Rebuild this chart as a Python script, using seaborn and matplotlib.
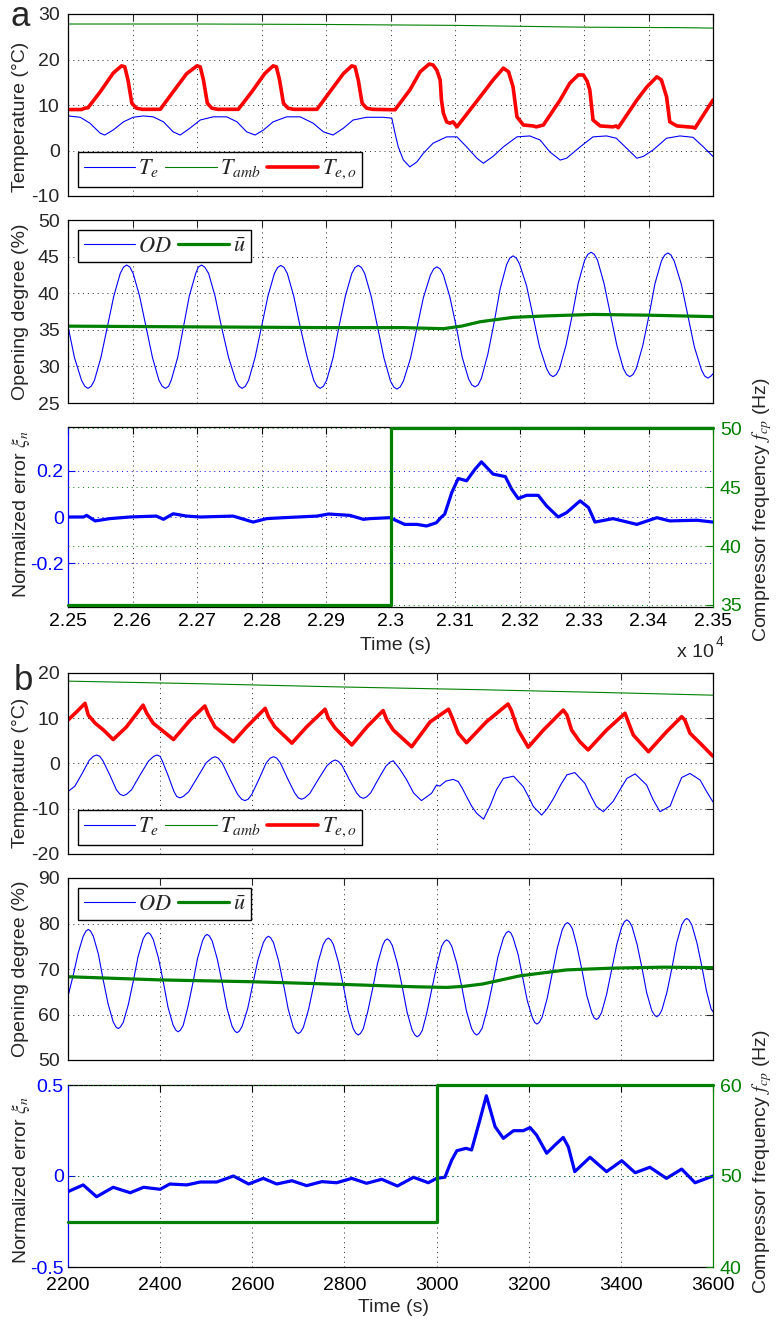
import matplotlib
matplotlib.use("Agg")
import matplotlib.pyplot as plt
from matplotlib.ticker import FuncFormatter
import seaborn as sns

# ---------------- panel a (time in s, shown as x 10^4) ----------------
a_te_t = [22500, 22519, 22534, 22550, 22557, 22570, 22586, 22601, 22617, 22632,
          22648, 22663, 22674, 22689, 22705, 22725, 22746, 22762, 22777, 22790,
          22803, 22818, 22839, 22860, 22880, 22896, 22911, 22927, 22942, 22963,
          22989, 23002, 23007, 23012, 23020, 23030, 23041, 23051, 23066, 23087,
          23103, 23118, 23134, 23144, 23159, 23175, 23196, 23216, 23232, 23247,
          23263, 23273, 23294, 23314, 23335, 23350, 23366, 23382, 23392, 23407,
          23428, 23449, 23469, 23485, 23500]
a_te = [7.6, 7.3, 6.0, 3.8, 3.4, 4.5, 6.3, 7.3, 7.6, 7.4,
        6.3, 4.1, 3.4, 4.9, 6.7, 7.4, 7.4, 6.3, 4.1, 3.4,
        4.5, 6.3, 7.4, 7.4, 6.0, 4.1, 3.4, 4.9, 6.7, 7.3,
        7.3, 7.1, 3.8, 0.8, -2.1, -3.6, -2.5, -0.6, 1.6, 3.0,
        3.0, 0.8, -1.7, -2.8, -1.3, 0.8, 3.0, 3.2, 2.3, -0.3,
        -2.1, -1.7, 0.8, 3.0, 3.2, 2.7, 0.5, -1.7, -1.3, 0.1,
        2.7, 3.2, 2.9, 0.8, -1.3]

a_tamb_t = [22500, 22700, 22900, 23100, 23300, 23450, 23500]
a_tamb = [27.8, 27.8, 27.7, 27.5, 27.1, 27.0, 26.9]

a_teo_t = [22500, 22521, 22526, 22531, 22550, 22570, 22583, 22588, 22593, 22599,
           22606, 22615, 22643, 22663, 22684, 22700, 22705, 22710, 22716, 22723,
           22732, 22764, 22785, 22805, 22818, 22823, 22828, 22834, 22841, 22850,
           22886, 22906, 22927, 22940, 22945, 22950, 22956, 22963, 22972, 23007,
           23030, 23046, 23060, 23066, 23072, 23077, 23079, 23082, 23087, 23092,
           23097, 23103, 23139, 23159, 23175, 23183, 23190, 23196, 23206, 23221,
           23226, 23237, 23263, 23278, 23291, 23299, 23305, 23309, 23314, 23325,
           23345, 23350, 23353, 23382, 23397, 23413, 23420, 23428, 23433, 23444,
           23469, 23472, 23500]
a_teo = [9.0, 9.0, 9.3, 9.4, 12.9, 17.0, 18.6, 18.4, 15.5, 10.4,
         9.3, 9.05, 9.05, 12.9, 16.9, 18.6, 18.4, 15.5, 10.4, 9.3,
         9.05, 9.05, 12.9, 16.9, 18.6, 18.4, 15.5, 10.4, 9.3, 9.05,
         9.05, 12.9, 16.9, 18.6, 18.4, 15.5, 10.4, 9.3, 9.05, 8.95,
         13.3, 17.3, 19.0, 18.8, 17.6, 15.5, 11.1, 8.2, 6.3, 6.0,
         6.3, 5.2, 11.8, 15.5, 18.1, 17.3, 14.0, 7.4, 5.6, 5.4,
         5.2, 5.6, 11.1, 14.8, 16.6, 16.6, 15.2, 13.3, 6.7, 5.4,
         5.2, 5.4, 5.0, 11.1, 13.9, 16.2, 15.5, 11.8, 6.3, 5.4,
         5.1, 4.9, 11.1]

a_od_t = [22500, 22510, 22521, 22526, 22531, 22536,
          22541, 22551, 22561, 22571, 22581, 22586, 22591, 22596,
          22601, 22611, 22621, 22631, 22641, 22646, 22651, 22656,
          22660, 22670, 22679, 22688, 22698, 22702, 22707, 22712,
          22718, 22728, 22738, 22749, 22760, 22765, 22770, 22775,
          22780, 22790, 22800, 22810, 22820, 22825, 22830, 22835,
          22840, 22850, 22860, 22871, 22881, 22886, 22891, 22896,
          22901, 22911, 22920, 22930, 22940, 22945, 22950, 22955,
          22960, 22970, 22980, 22990, 23000, 23005, 23010, 23015,
          23020, 23031, 23041, 23051, 23062, 23067, 23072, 23077,
          23082, 23092, 23102, 23111, 23121, 23126, 23131, 23136,
          23141, 23151, 23161, 23170, 23180, 23185, 23190, 23195,
          23200, 23211, 23221, 23231, 23242, 23247, 23252, 23257,
          23262, 23272, 23282, 23291, 23301, 23306, 23311, 23316,
          23321, 23331, 23341, 23351, 23361, 23366, 23371, 23376,
          23381, 23391, 23401, 23410, 23420, 23425, 23430, 23435,
          23440, 23451, 23461, 23471, 23482, 23487, 23492, 23497,
          23500]
a_od = [35.5, 31.2, 28.1, 27.29, 27.0, 27.29,
        28.1, 31.2, 35.4, 39.6, 42.7, 43.56, 43.85, 43.56,
        42.7, 39.6, 35.4, 31.2, 28.1, 27.29, 27.0, 27.29,
        28.1, 31.2, 35.4, 39.6, 42.7, 43.56, 43.85, 43.56,
        42.7, 39.6, 35.4, 31.2, 28.1, 27.29, 27.0, 27.29,
        28.1, 31.2, 35.4, 39.6, 42.7, 43.51, 43.8, 43.51,
        42.7, 39.6, 35.4, 31.2, 28.1, 27.29, 27.0, 27.29,
        28.1, 31.2, 35.4, 39.6, 42.7, 43.51, 43.8, 43.51,
        42.7, 39.6, 35.35, 31.1, 28.0, 27.19, 26.9, 27.19,
        28.0, 31.1, 35.25, 39.4, 42.5, 43.32, 43.6, 43.32,
        42.5, 39.5, 35.4, 31.3, 28.3, 27.48, 27.2, 27.48,
        28.4, 31.7, 36.15, 40.6, 43.9, 44.8, 45.1, 44.8,
        44.0, 41.0, 36.85, 32.7, 29.7, 28.88, 28.6, 28.88,
        29.7, 32.85, 37.1, 41.35, 44.5, 45.31, 45.6, 45.31,
        44.5, 41.35, 37.1, 32.85, 29.7, 28.89, 28.6, 28.89,
        29.7, 32.8, 37.05, 41.3, 44.4, 45.21, 45.5, 45.21,
        44.35, 41.2, 36.95, 32.7, 29.55, 28.69, 28.4, 28.69,
        29.0]

a_ubar_t = [22500, 22700, 22900, 23020, 23082, 23110, 23139, 23190, 23242, 23314, 23397, 23500]
a_ubar = [35.5, 35.4, 35.3, 35.3, 35.15, 35.5, 36.1, 36.7, 36.9, 37.1, 37.0, 36.8]

a_xi_t = [22500, 22524, 22529, 22542, 22565, 22596, 22637, 22648, 22663, 22684,
          22705, 22756, 22787, 22808, 22834, 22886, 22904, 22937, 22958, 22968,
          22999, 23022, 23041, 23056, 23071, 23079, 23084, 23095, 23105, 23118,
          23131, 23141, 23159, 23178, 23188, 23198, 23211, 23229, 23242, 23260,
          23273, 23294, 23307, 23317, 23345, 23382, 23413, 23433, 23475, 23500]
a_xi = [0.0, 0.0, 0.007, -0.017, -0.007, 0.0, 0.004, -0.01, 0.014, 0.004,
        0.0, 0.004, -0.022, -0.007, -0.003, 0.004, 0.013, 0.007, -0.01, -0.007,
        -0.003, -0.032, -0.032, -0.039, -0.025, 0.0, 0.012, 0.106, 0.167, 0.157,
        0.207, 0.239, 0.186, 0.175, 0.12, 0.08, 0.094, 0.094, 0.048, 0.0,
        0.019, 0.07, 0.041, -0.022, -0.007, -0.032, -0.003, -0.017, -0.014, -0.022]

a_fcp_t = [22500, 23000, 23500]
a_fcp = [35, 50, 50]

# ---------------- panel b ----------------
b_te_t = [2200, 2215, 2231, 2246, 2255, 2262, 2269,
          2276, 2291, 2305, 2313, 2320, 2327,
          2338, 2356, 2375, 2386, 2393, 2400,
          2405, 2418, 2430, 2436, 2443, 2450,
          2462, 2481, 2500, 2512, 2519, 2526,
          2535, 2551, 2568, 2577, 2584, 2591,
          2599, 2615, 2630, 2639, 2646, 2653,
          2661, 2676, 2692, 2700, 2707, 2714,
          2725, 2743, 2762, 2773, 2780, 2787,
          2795, 2810, 2826, 2834, 2841, 2848,
          2857, 2873, 2890, 2899, 2906,
          2920, 2935, 2950, 2967, 2989, 3000, 3007, 3020, 3036, 3047,
          3056, 3065, 3076, 3087, 3102, 3116, 3130, 3145, 3167, 3188,
          3200, 3210, 3228, 3240, 3254, 3270, 3283, 3300, 3322, 3335,
          3347, 3362, 3383, 3398, 3413, 3431, 3456, 3470, 3485, 3507,
          3520, 3532, 3550, 3572, 3585, 3600]
b_te = [-6.2, -5.0, -2.15, 0.7, 1.58, 1.88, 1.58,
        0.57, -2.6, -5.8, -6.8, -7.1, -6.8,
        -5.8, -2.6, 0.57, 1.58, 1.88, 1.58,
        0.5, -2.85, -6.2, -7.3, -7.6, -7.3,
        -6.25, -3.05, 0.17, 1.2, 1.5, 1.2,
        0.08, -3.35, -6.8, -7.9, -8.2, -7.9,
        -6.8, -3.35, 0.08, 1.2, 1.5, 1.2,
        0.13, -3.2, -6.5, -7.6, -7.9, -7.6,
        -6.6, -3.55, -0.5, 0.47, 0.77, 0.47,
        -0.47, -3.45, -6.45, -7.4, -7.7, -7.4,
        -6.5, -3.55, -0.6, 0.3, 0.6,
        -1.2, -3.6, -6.5, -8.2, -6.6, -4.75, -5.0, -3.9, -3.5, -4.0,
        -5.5, -7.3, -9.4, -11.0, -12.3, -9.4, -5.8, -3.3, -2.8, -5.1,
        -7.4, -9.5, -11.4, -10.0, -7.7, -4.6, -2.5, -2.0, -4.4, -7.2,
        -9.5, -10.65, -8.4, -5.8, -3.3, -2.3, -4.75, -8.0, -10.65, -9.4,
        -6.0, -3.1, -2.2, -3.65, -6.0, -8.5]

b_tamb_t = [2200, 2500, 2800, 3100, 3400, 3600]
b_tamb = [18.2, 17.6, 16.9, 16.3, 15.6, 15.1]

b_teo_t = [2200, 2219, 2237, 2244, 2259, 2277, 2298, 2327, 2363, 2371,
           2385, 2429, 2465, 2497, 2505, 2519, 2559, 2588, 2628, 2635,
           2649, 2686, 2718, 2758, 2765, 2780, 2816, 2849, 2884, 2892,
           2906, 2946, 2986, 3026, 3033, 3047, 3065, 3108, 3155, 3162,
           3177, 3199, 3232, 3275, 3283, 3293, 3311, 3329, 3369, 3409,
           3416, 3427, 3460, 3499, 3532, 3539, 3550, 3572, 3600]
b_teo = [9.6, 11.45, 13.3, 10.7, 8.9, 7.4, 5.3, 8.1, 12.9, 11.1,
         8.9, 5.3, 9.6, 12.7, 10.7, 8.1, 4.8, 8.1, 12.2, 10.35,
         8.1, 4.5, 8.1, 12.0, 10.0, 7.8, 4.1, 8.1, 11.7, 9.6,
         7.4, 3.7, 9.2, 12.0, 10.35, 6.7, 4.6, 9.2, 13.15, 11.8,
         7.4, 3.6, 7.4, 11.8, 10.7, 7.4, 4.8, 3.0, 7.4, 11.1,
         9.2, 6.3, 2.6, 7.0, 10.35, 9.6, 6.7, 4.5, 1.6]

b_od_t = [2200, 2211, 2222, 2233, 2239, 2244, 2249,
          2255, 2266, 2276, 2287, 2298, 2304, 2309, 2314,
          2320, 2331, 2342, 2352, 2363, 2369, 2374, 2379,
          2385, 2396, 2407, 2417, 2428, 2434, 2439, 2444,
          2450, 2460, 2471, 2481, 2492, 2497, 2502, 2507,
          2513, 2524, 2535, 2545, 2556, 2562, 2567, 2572,
          2578, 2590, 2601, 2612, 2624, 2630, 2635, 2640,
          2646, 2657, 2668, 2678, 2689, 2695, 2700, 2705,
          2711, 2722, 2733, 2743, 2754, 2760, 2765, 2770,
          2776, 2787, 2798, 2808, 2819, 2825, 2830, 2835,
          2841, 2851, 2862, 2872, 2883, 2888, 2893, 2898,
          2904, 2915, 2926, 2936, 2947, 2953, 2958, 2963,
          2969, 2979, 2990, 3001, 3011, 3017, 3022, 3027,
          3033, 3044, 3055, 3065, 3076, 3082, 3087, 3092,
          3099, 3110, 3122, 3133, 3145, 3151, 3156, 3161,
          3166, 3177, 3187, 3197, 3208, 3213, 3218, 3223,
          3229, 3240, 3251, 3262, 3273, 3279, 3284, 3289,
          3295, 3305, 3316, 3326, 3337, 3342, 3347, 3352,
          3358, 3369, 3380, 3391, 3402, 3408, 3413, 3418,
          3424, 3435, 3446, 3456, 3467, 3473, 3478, 3483,
          3489, 3500, 3511, 3521, 3532, 3538, 3543, 3548,
          3554, 3565, 3576, 3586, 3596, 3600]
b_od = [64.0, 68.5, 73.5, 77.2, 78.33, 78.7, 78.33,
        77.2, 73.25, 67.8, 62.35, 58.4, 57.27, 56.9, 57.27,
        58.3, 62.2, 67.45, 72.7, 76.6, 77.64, 78.0, 77.64,
        76.5, 72.55, 67.1, 61.65, 57.7, 56.57, 56.2, 56.57,
        57.6, 61.55, 66.9, 72.25, 76.2, 77.24, 77.6, 77.24,
        76.15, 72.2, 66.8, 61.4, 57.45, 56.37, 56.0, 56.37,
        57.4, 61.3, 66.6, 71.9, 75.8, 76.84, 77.2, 76.84,
        75.8, 71.85, 66.5, 61.15, 57.2, 56.16, 55.8, 56.16,
        57.2, 61.05, 66.3, 71.55, 75.4, 76.44, 76.8, 76.44,
        75.4, 71.5, 66.15, 60.8, 56.9, 55.86, 55.5, 55.86,
        56.9, 60.8, 66.05, 71.3, 75.2, 76.24, 76.6, 76.24,
        75.15, 71.2, 65.85, 60.5, 56.55, 55.47, 55.1, 55.47,
        56.5, 60.4, 65.75, 71.1, 75.0, 76.04, 76.4, 76.04,
        75.0, 71.2, 65.95, 60.7, 56.9, 55.86, 55.5, 55.86,
        57.0, 61.2, 66.9, 72.6, 76.8, 77.91, 78.3, 77.95,
        76.9, 73.2, 68.1, 63.0, 59.3, 58.25, 57.9, 58.28,
        59.4, 63.5, 69.05, 74.6, 78.7, 79.82, 80.2, 79.84,
        78.8, 74.9, 69.55, 64.2, 60.3, 59.26, 58.9, 59.27,
        60.4, 64.4, 69.85, 75.3, 79.3, 80.43, 80.8, 80.44,
        79.4, 75.5, 70.15, 64.8, 60.9, 59.86, 59.5, 59.87,
        60.95, 64.9, 70.3, 75.7, 79.65, 80.73, 81.1, 80.74,
        79.7, 75.8, 70.45, 65.1, 61.2, 60.6]

b_ubar_t = [2200, 2400, 2600, 2800, 2950, 3022, 3060, 3100, 3181, 3282, 3384, 3492, 3600]
b_ubar = [68.3, 67.6, 67.2, 66.6, 66.1, 65.95, 66.2, 66.7, 68.5, 69.8, 70.2, 70.4, 70.3]

b_xi_t = [2200, 2233, 2262, 2298, 2335, 2364, 2400, 2421, 2458, 2487,
          2523, 2559, 2592, 2624, 2653, 2686, 2718, 2751, 2783, 2816,
          2848, 2881, 2915, 2950, 2982, 3000, 3018, 3033, 3044, 3064,
          3076, 3094, 3108, 3127, 3145, 3167, 3188, 3203, 3217, 3239,
          3257, 3275, 3286, 3300, 3333, 3369, 3402, 3431, 3463, 3499,
          3532, 3561, 3600]
b_xi = [-0.086, -0.049, -0.114, -0.062, -0.092, -0.062, -0.073, -0.044, -0.049, -0.033,
        -0.033, 0.0, -0.044, -0.013, -0.044, -0.026, -0.053, -0.031, -0.037, -0.013,
        -0.04, -0.018, -0.055, -0.007, -0.037, -0.013, -0.007, 0.088, 0.139, 0.152,
        0.143, 0.308, 0.441, 0.271, 0.207, 0.249, 0.249, 0.266, 0.225, 0.125,
        0.17, 0.212, 0.16, 0.024, 0.103, 0.024, 0.084, 0.018, 0.048, -0.013,
        0.038, -0.037, 0.0]

b_fcp_t = [2200, 3000, 3600]
b_fcp = [45, 60, 60]

a_xticks = list(range(22500, 23501, 100))
b_xticks = list(range(2200, 3601, 200))

# ---------------- style ----------------
sns.set_style("white")
plt.rcParams['font.family'] = ['Liberation Sans', 'DejaVu Sans']
plt.rcParams['mathtext.fontset'] = 'stix'
plt.rcParams['axes.unicode_minus'] = False

BLUE, RED, GREEN = '#0000ff', '#ff0000', '#008000'
W_PX, H_PX = 778, 1321
L_PX, R_PX = 68, 713
GRID = dict(linestyle=(0, (1, 4)), linewidth=0.7)
fmt = FuncFormatter(lambda v, p: f"{v:g}")

fig = plt.figure(figsize=(W_PX / 100, H_PX / 100), dpi=100)


def panel(top, bottom):
    return fig.add_axes([L_PX / W_PX, 1 - bottom / H_PX,
                         (R_PX - L_PX) / W_PX, (bottom - top) / H_PX])


def draw(ax, x, y, color, lw, **kw):
    sns.lineplot(x=x, y=y, ax=ax, color=color, linewidth=lw,
                 estimator=None, sort=False, legend=False, **kw)
    ax.set_xlabel('')
    ax.set_ylabel('')
    return ax.lines[-1]


def frame(ax, xlim, xticks, ylim, yticks, labelbottom=False):
    ax.set_xlim(xlim)
    ax.set_ylim(ylim)
    ax.set_xticks(xticks)
    ax.set_yticks(yticks)
    ax.yaxis.set_major_formatter(fmt)
    ax.tick_params(direction='in', length=5, width=0.8, top=True, right=True,
                   labelsize=14, labelbottom=labelbottom)
    ax.tick_params(axis='y', pad=6)
    ax.tick_params(axis='x', pad=5)
    ax.grid(True, color='0.15', **GRID)
    for s in ax.spines.values():
        s.set_color('k')
        s.set_linewidth(0.9)


def legend(ax, handles, labels, loc, anchor):
    lg = ax.legend(handles, labels, loc=loc, bbox_to_anchor=anchor, borderaxespad=0,
                   ncol=len(handles), fontsize=16, fancybox=False, framealpha=1,
                   edgecolor='k', handlelength=2.3, handletextpad=0.15,
                   columnspacing=0.3, borderpad=0.25)
    lg.get_frame().set_linewidth(1.0)


def twin_panel(top, bottom, xlim, xticks, xfmt, xpad, xi_t, xi, ylim, yticks,
               f_t, f, flim, fticks):
    ax = panel(top, bottom)
    ax2 = ax.twinx()
    draw(ax, xi_t, xi, BLUE, 2.3)
    draw(ax2, f_t, f, GREEN, 2.3, drawstyle='steps-post', clip_on=False)
    ax.set_xlim(xlim)
    ax.set_xticks(xticks)
    ax.xaxis.set_major_formatter(xfmt)
    ax.set_ylim(ylim)
    ax.set_yticks(yticks)
    ax.yaxis.set_major_formatter(fmt)
    ax2.set_ylim(flim)
    ax2.set_yticks(fticks)
    ax.tick_params(direction='in', length=5, width=0.8, top=True, labelsize=14)
    ax.tick_params(axis='x', pad=xpad, colors='k')
    ax.tick_params(axis='y', pad=3, colors=BLUE, right=False)
    ax2.tick_params(direction='in', length=5, width=0.8, labelsize=14, pad=5,
                    colors=GREEN)
    ax.xaxis.grid(True, color='0.15', **GRID)
    ax.yaxis.grid(True, color=BLUE, **GRID)
    ax2.yaxis.grid(True, color=GREEN, **GRID)
    for s in ax.spines.values():
        s.set_linewidth(0.9)
        s.set_color('k')
    ax.spines['left'].set_color(BLUE)
    ax.spines['right'].set_visible(False)
    for name, s in ax2.spines.items():
        s.set_visible(name == 'right')
    ax2.spines['right'].set_color(GREEN)
    ax2.spines['right'].set_linewidth(0.9)
    return ax, ax2


# ---------------- panel a ----------------
ax = panel(14, 196)
h1 = draw(ax, a_te_t, a_te, BLUE, 0.8)
h2 = draw(ax, a_tamb_t, a_tamb, GREEN, 0.8)
h3 = draw(ax, a_teo_t, a_teo, RED, 2.6)
frame(ax, (22500, 23500), a_xticks, (-10, 30), [-10, 0, 10, 20, 30])
legend(ax, [h1, h2, h3], ['$T_e$', '$T_{amb}$', '$T_{e,o}$'],
       'lower left', (10 / 645, 9 / 182))

ax = panel(220, 403)
h1 = draw(ax, a_od_t, a_od, BLUE, 0.8)
h2 = draw(ax, a_ubar_t, a_ubar, GREEN, 2.3)
frame(ax, (22500, 23500), a_xticks, (25, 50), [25, 30, 35, 40, 45, 50])
legend(ax, [h1, h2], ['$OD$', r'$\bar{u}$'], 'upper left', (10 / 645, 1 - 10 / 183))

twin_panel(427, 607, (22500, 23500), a_xticks,
           FuncFormatter(lambda v, p: f"{v / 1e4:g}"), 4,
           a_xi_t, a_xi, (-0.39, 0.39), [-0.2, 0, 0.2],
           a_fcp_t, a_fcp, (34.83, 50.11), [35, 40, 45, 50])

# ---------------- panel b ----------------
ax = panel(673, 854)
h1 = draw(ax, b_te_t, b_te, BLUE, 0.8)
h2 = draw(ax, b_tamb_t, b_tamb, GREEN, 0.8)
h3 = draw(ax, b_teo_t, b_teo, RED, 2.6)
frame(ax, (2200, 3600), b_xticks, (-20, 20), [-20, -10, 0, 10, 20])
legend(ax, [h1, h2, h3], ['$T_e$', '$T_{amb}$', '$T_{e,o}$'],
       'lower left', (10 / 645, 9 / 181))

ax = panel(878, 1060)
h1 = draw(ax, b_od_t, b_od, BLUE, 0.8)
h2 = draw(ax, b_ubar_t, b_ubar, GREEN, 2.3)
frame(ax, (2200, 3600), b_xticks, (50, 90), [50, 60, 70, 80, 90])
legend(ax, [h1, h2], ['$OD$', r'$\bar{u}$'], 'upper left', (10 / 645, 1 - 10 / 182))

twin_panel(1085, 1267, (2200, 3600), b_xticks, FuncFormatter(lambda v, p: f"{v:g}"), 7,
           b_xi_t, b_xi, (-0.5, 0.5), [-0.5, 0, 0.5],
           b_fcp_t, b_fcp, (40, 60), [40, 50, 60])

# ---------------- labels ----------------
def ftext(x, y, s, **kw):
    fig.text(x / W_PX, 1 - y / H_PX, s, **kw)


for y, s in [(117, 'Temperature (°C)'), (312, 'Opening degree (%)'),
             (514, r'Normalized error $\xi_n$'), (773, 'Temperature (°C)'),
             (969, 'Opening degree (%)'), (1180, r'Normalized error $\xi_n$')]:
    ftext(21, y, s, rotation=90, ha='center', va='center', fontsize=14)
for y in (510, 1162):
    ftext(762, y, r'Compressor frequency $f_{cp}$ (Hz)', rotation=90,
          ha='center', va='center', fontsize=14)
ftext(396, 645, 'Time (s)', ha='center', va='center', fontsize=14)
ftext(393, 1307, 'Time (s)', ha='center', va='center', fontsize=14)
ftext(677, 657, 'x 10', ha='left', va='baseline', fontsize=14)
ftext(716, 646, '4', ha='left', va='baseline', fontsize=10)
ftext(11, 26, 'a', ha='left', va='baseline', fontsize=25)
ftext(14, 690, 'b', ha='left', va='baseline', fontsize=25)

fig.savefig('out.png', dpi=100)
